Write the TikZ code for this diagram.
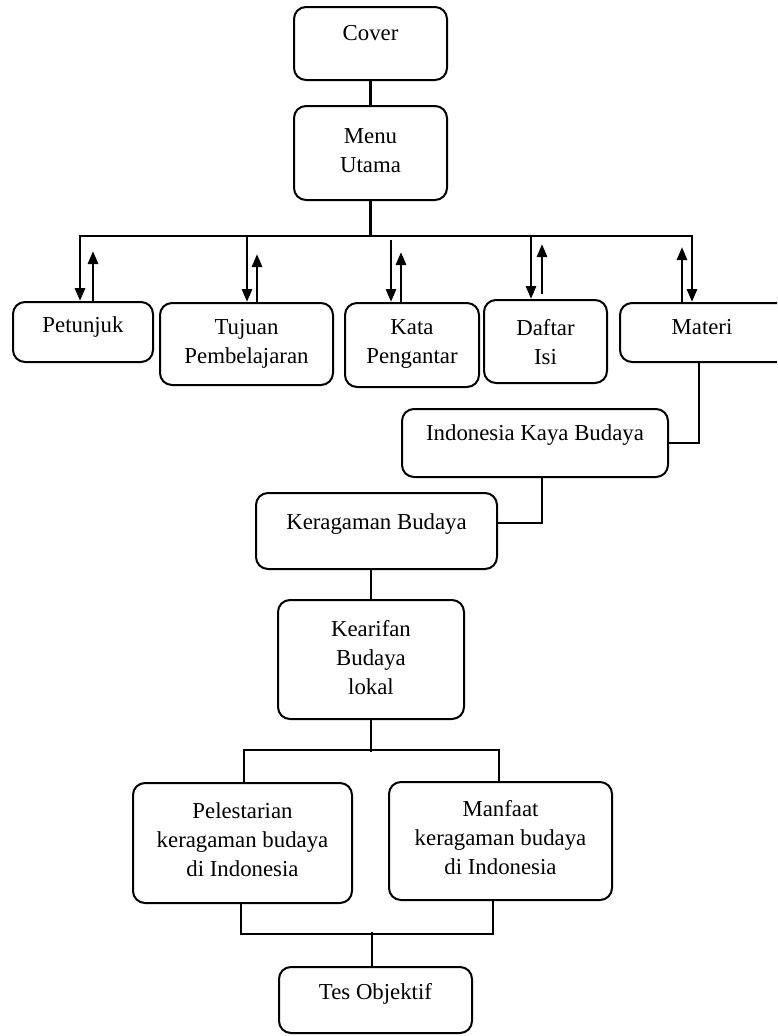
\documentclass[tikz,border=0pt]{standalone}
\usepackage{fontspec}
\setmainfont{Liberation Serif}
\usetikzlibrary{arrows.meta}
\begin{document}
\begin{tikzpicture}[x=1pt,y=-1pt,
  box/.style={draw=black,line width=2pt,rounded corners=12pt,inner sep=0pt},
  txt/.style={font=\fontsize{22.8}{29}\selectfont,align=center,inner sep=0pt,text=black},
  con/.style={line width=2.8pt,draw=black},
  arr/.style={con,-{Triangle[width=10pt,length=13pt]}}]
\useasboundingbox (0,0) rectangle (777,1036);
\begin{scope}
\clip (0,0) rectangle (777,1036);
% boxes
\node[box,minimum width=153pt,minimum height=73pt] (cover) at (370.5,43.5) {};
\node[box,minimum width=153pt,minimum height=94pt] (menu) at (370.5,153) {};
\node[box,minimum width=140pt,minimum height=60pt] (petunjuk) at (83,332) {};
\node[box,minimum width=173pt,minimum height=82pt] (tujuan) at (246.5,344) {};
\node[box,minimum width=134pt,minimum height=84pt] (kata) at (412,345) {};
\node[box,minimum width=123pt,minimum height=83pt] (daftar) at (545.5,341.5) {};
\node[box,minimum width=174pt,minimum height=59pt] (materi) at (707,332.5) {};
\node[box,minimum width=266pt,minimum height=68pt] (indonesia) at (535,443) {};
\node[box,minimum width=241pt,minimum height=76pt] (keragaman) at (376.5,531) {};
\node[box,minimum width=186pt,minimum height=119pt] (kearifan) at (371,659.5) {};
\node[box,minimum width=219pt,minimum height=120pt] (pelestarian) at (242.5,843) {};
\node[box,minimum width=223pt,minimum height=118pt] (manfaat) at (500.5,841) {};
\node[box,minimum width=193pt,minimum height=66pt] (tes) at (375.5,1000) {};
% texts
\node[txt] (coverT) at (370.5,33) {Cover};
\node[txt] (menuT) at (370.5,151) {Menu\\Utama};
\node[txt] (petunjukT) at (83,327) {Petunjuk};
\node[txt] (tujuanT) at (246.5,344) {Tujuan\\Pembelajaran};
\node[txt] (kataT) at (412,344) {Kata\\Pengantar};
\node[txt] (daftarT) at (545.5,342) {Daftar\\Isi};
\node[txt] (materiT) at (702,327) {Materi};
\node[txt] (indonesiaT) at (535,435) {Indonesia Kaya Budaya};
\node[txt] (keragamanT) at (376.5,524) {Keragaman Budaya};
\node[txt] (kearifanT) at (371,658) {Kearifan\\Budaya\\lokal};
\node[txt] (pelestarianT) at (242.5,840) {Pelestarian\\keragaman budaya\\di Indonesia};
\node[txt] (manfaatT) at (500.5,838) {Manfaat\\keragaman budaya\\di Indonesia};
\node[txt] (tesT) at (375.5,994) {Tes Objektif};
% connectors
\coordinate (busL) at (80,236);
\coordinate (busR) at (692,236);
\draw[con] (cover.south) -- (menu.north);
\draw[con] (menu.south) -- (menu.south |- busL);
\draw[con,line cap=rect] (busL) -- (busR);
% petunjuk
\draw[arr] (busL) -- (busL |- petunjuk.north);
\draw[arr] ([xshift=10pt]petunjuk.north) -- ++(0,-50);
% tujuan
\coordinate (tjD) at (247,236);
\draw[arr] (tjD) -- (tjD |- tujuan.north);
\draw[arr] ([xshift=10.5pt]tujuan.north) -- ++(0,-48);
% kata
\coordinate (ktD) at (391,240);
\draw[arr] (ktD) -- (ktD |- kata.north);
\draw[arr] ([xshift=-11pt]kata.north) -- ++(0,-50);
% daftar
\coordinate (dfD) at (531,236);
\draw[arr] (dfD) -- (dfD |- daftar.north);
\draw[arr] ([xshift=-3.5pt,yshift=5pt]daftar.north) -- ++(0,-50);
% materi
\draw[arr] ([xshift=-25pt]materi.north) -- ++(0,-55);
\draw[arr] (busR) -- (busR |- materi.north);
% materi chain
\draw[con] ([xshift=-8pt]materi.south) |- (indonesia.east);
\draw[con] ([xshift=7pt]indonesia.south) |- ([yshift=8pt]keragaman.east);
\draw[con] (keragaman.south -| kearifan.north) -- (kearifan.north);
\draw[con] (kearifan.south) -- ++(0,32);
\draw[con] ([xshift=1.5pt]pelestarian.north) -- ++(0,-32) -| ([xshift=-1.5pt]manfaat.north);
\draw[con] ([xshift=-1.5pt]pelestarian.south) -- ++(0,30) -| ([xshift=-7.5pt]manfaat.south);
\draw[con] ([xshift=-3.5pt]tes.north) -- ++(0,-34);
\end{scope}
\end{tikzpicture}
\end{document}
